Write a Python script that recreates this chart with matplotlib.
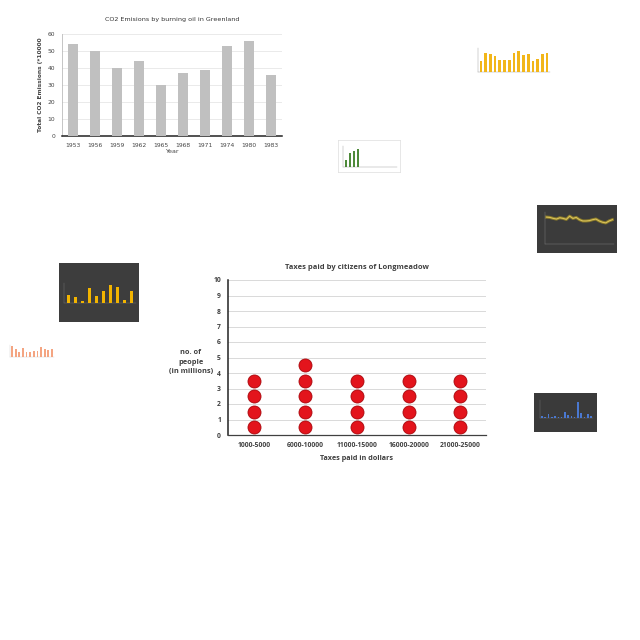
import matplotlib.pyplot as plt

# main dot plot data
tax_ranges = ["1000-5000", "6000-10000", "11000-15000", "16000-20000", "21000-25000"]
people_millions = [4, 5, 4, 4, 4]

# CO2 bar chart data
co2_years = ["1953", "1956", "1959", "1962", "1965", "1968", "1971", "1974", "1980", "1983"]
co2_values = [54, 50, 40, 44, 30, 37, 39, 53, 56, 36]

# thumbnail charts (values estimated from tiny previews)
yellow_light_vals = [40, 68, 62, 55, 42, 42, 42, 65, 75, 58, 62, 40, 44, 62, 68]
green_vals = [35, 65, 78, 88]
dark_line_vals = [84, 83, 80, 78, 82, 80, 77, 87, 80, 83, 76, 72, 72, 73, 76, 78, 72, 68, 66, 72, 76]
dark_yellow_vals = [35, 25, 10, 65, 30, 55, 80, 70, 15, 55]
orange_vals = [60, 45, 30, 50, 30, 30, 35, 35, 55, 45, 40, 45]
blue_vals = [10, 5, 25, 8, 12, 6, 5, 35, 15, 10, 5, 95, 30, 8, 25, 10]

W = H = 640


def px(x0, y0, x1, y1):
    return [x0 / W, 1 - y1 / H, (x1 - x0) / W, (y1 - y0) / H]


fig = plt.figure(figsize=(6.4, 6.4), dpi=100)
fig.patch.set_facecolor("white")

# ---- main chart: Taxes paid by citizens of Longmeadow
ax = fig.add_axes(px(228, 280, 486, 435))
for i, n in enumerate(people_millions):
    xs = [i] * n
    ys = [k + 0.5 for k in range(n)]
    ax.scatter(xs, ys, s=88, color="#e3141c", edgecolors="#a8070c", linewidths=0.6, zorder=3)
ax.set_xlim(-0.5, len(tax_ranges) - 0.5)
ax.set_ylim(0, 10)
ax.set_yticks(range(0, 11))
ax.set_xticks(range(len(tax_ranges)))
ax.set_xticklabels(tax_ranges)
ax.yaxis.grid(True, color="#d9d9d9", linewidth=0.7)
ax.set_axisbelow(True)
for s in ["top", "right"]:
    ax.spines[s].set_visible(False)
ax.spines["left"].set_color("#222222")
ax.spines["left"].set_linewidth(1.1)
ax.spines["bottom"].set_color("#404040")
ax.spines["bottom"].set_linewidth(0.9)
ax.tick_params(axis="both", length=0, labelsize=4.9, labelcolor="#404040", pad=5)
for t in ax.get_xticklabels() + ax.get_yticklabels():
    t.set_fontfamily("Open Sans")
    t.set_fontweight("bold")
ax.set_title("Taxes paid by citizens of Longmeadow", fontsize=5.4, color="#404040",
             fontweight="bold", family="Open Sans", pad=8)
ax.set_xlabel("Taxes paid in dollars", fontsize=5.2, color="#404040", fontweight="bold",
              family="Open Sans", labelpad=4)
fig.text(191 / W, 1 - 362 / H, "no. of\npeople\n(in millions)", ha="center", va="center",
         fontsize=5.3, color="#404040", fontweight="bold", family="Open Sans", linespacing=1.45)

# ---- CO2 chart
ax2 = fig.add_axes(px(62, 34, 282, 136))
ax2.bar(range(len(co2_values)), co2_values, width=0.45, color="#c0c0c0", zorder=3)
ax2.set_xlim(-0.5, len(co2_values) - 0.5)
ax2.set_ylim(0, 60)
ax2.set_yticks(range(0, 61, 10))
ax2.set_xticks(range(len(co2_years)))
ax2.set_xticklabels(co2_years)
ax2.yaxis.grid(True, color="#e6e6e6", linewidth=0.6)
ax2.set_axisbelow(True)
for s in ["top", "right"]:
    ax2.spines[s].set_visible(False)
ax2.spines["left"].set_color("#bbbbbb")
ax2.spines["left"].set_linewidth(0.6)
ax2.spines["bottom"].set_color("#222222")
ax2.spines["bottom"].set_linewidth(1.1)
ax2.tick_params(axis="both", length=0, labelsize=4.3, labelcolor="#444444", pad=5)
ax2.set_title("CO2 Emisions by burning oil in Greenland", fontsize=4.6, color="#333333", pad=9)
ax2.set_xlabel("Year", fontsize=4.6, color="#444444", labelpad=1)
ax2.set_ylabel("Total CO2 Emissions (*10000", fontsize=4.2, color="#444444",
               fontweight="bold", labelpad=3)


def thumb_frame(box, face, edge=None):
    fr = fig.add_axes(px(*box))
    fr.set_facecolor(face)
    fr.set_xticks([])
    fr.set_yticks([])
    for s in fr.spines.values():
        if edge is None:
            s.set_visible(False)
        else:
            s.set_color(edge)
            s.set_linewidth(0.5)
    return fr


def thumb_bars(box, vals, color, grid, width=0.55, xlim=None, ymax=None, axis_col="#999999"):
    a = fig.add_axes(px(*box))
    a.patch.set_alpha(0)
    a.bar(range(len(vals)), vals, width=width, color=color, zorder=3)
    a.set_xlim(xlim if xlim else (-0.6, len(vals) - 0.4))
    a.set_ylim(0, ymax if ymax else max(vals) * 1.12)
    a.set_xticks([])
    a.set_yticks([])
    a.yaxis.grid(True, color=grid, linewidth=0.3)
    for s in ["top", "right"]:
        a.spines[s].set_visible(False)
    a.spines["left"].set_color(axis_col)
    a.spines["bottom"].set_color(axis_col)
    a.spines["left"].set_linewidth(0.3)
    a.spines["bottom"].set_linewidth(0.3)
    return a


# yellow thumbnail, top right
thumb_frame((470, 37, 555, 90), "white")
thumb_bars((478, 48, 550, 72), yellow_light_vals, "#f2b619", "#eeeeee")

# green thumbnail
thumb_frame((338, 140, 400, 172), "white", edge="#dddddd")
thumb_bars((343, 146, 397, 167), green_vals, "#4e8a3a", "#eeeeee", width=0.6,
           xlim=(-0.8, 13), ymax=100)

# dark line thumbnail
thumb_frame((537, 205, 617, 253), "#3b3b3b")
al = fig.add_axes(px(545, 212, 614, 244))
al.patch.set_alpha(0)
al.plot(range(len(dark_line_vals)), dark_line_vals, color="#8a7a2a", linewidth=2.2)
al.plot(range(len(dark_line_vals)), dark_line_vals, color="#d9c25a", linewidth=0.8)
al.set_ylim(0, 100)
al.set_xlim(-0.5, len(dark_line_vals) - 0.5)
al.set_xticks([])
al.set_yticks([])
for s in ["top", "right"]:
    al.spines[s].set_visible(False)
al.spines["left"].set_color("#888888")
al.spines["bottom"].set_color("#888888")
al.spines["left"].set_linewidth(0.3)
al.spines["bottom"].set_linewidth(0.3)

# dark yellow bars thumbnail, left
thumb_frame((59, 263, 139, 322), "#3d3d3d")
thumb_bars((64, 283, 136, 303), dark_yellow_vals, "#f2b400", "#555555", width=0.45,
           axis_col="#777777")

# orange light thumbnail
thumb_frame((8, 337, 55, 368), "white")
thumb_bars((10, 345, 54, 357), orange_vals, "#f4a582", "#f2f2f2", width=0.5,
           axis_col="#cccccc")

# dark blue thumbnail
thumb_frame((534, 393, 597, 432), "#3a3a3a")
thumb_bars((540, 400, 593, 418), blue_vals, "#4a78d0", "#555555", width=0.5,
           axis_col="#777777")

fig.savefig("out.png", dpi=100)
